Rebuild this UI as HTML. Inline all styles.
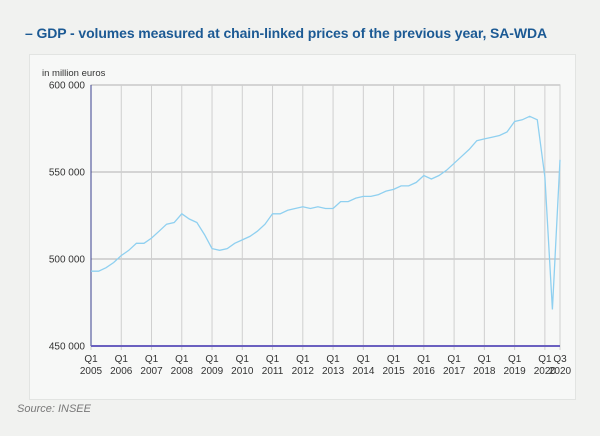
<!DOCTYPE html>
<html><head><meta charset="utf-8"><style>
body{margin:0;width:600px;height:436px;background:#f1f2f0;font-family:"Liberation Sans",sans-serif;overflow:hidden;position:relative}
#title{position:absolute;left:25px;top:25px;font-size:14px;font-weight:bold;color:#1c5a94;white-space:nowrap;letter-spacing:-0.1px}
#panel{position:absolute;left:29px;top:54px;width:545px;height:344px;background:#f7f8f7;border:1px solid #e2e4e2}
#src{position:absolute;left:17px;top:403px;font-size:11px;font-style:italic;color:#777}
svg{position:absolute;left:0;top:0}
</style></head><body>
<div id="title">– GDP - volumes measured at chain-linked prices of the previous year, SA-WDA</div>
<div id="panel"></div>
<div id="src">Source: INSEE</div>
<svg id="chart" width="600" height="436"></svg>
<script>
const gdpValues=[493,493,495,498, 502,505,509,509, 512,516,520,521, 526,523,521,514,
506,505,506,509, 511,513,516,520, 526,526,528,529, 530,529,530,529,
529,533,533,535, 536,536,537,539, 540,542,542,544, 548,546,548,551,
555,559,563,568, 569,570,571,573, 579,580,582,580, 547,471,557];
const yTicks=[450000,500000,550000,600000];
const yTickLabels=["450 000","500 000","550 000","600 000"];
const xLabelsTop=["Q1","Q1","Q1","Q1","Q1","Q1","Q1","Q1","Q1","Q1","Q1","Q1","Q1","Q1","Q1","Q1","Q3"];
const xLabelsBottom=["2005","2006","2007","2008","2009","2010","2011","2012","2013","2014","2015","2016","2017","2018","2019","2020","2020"];
const xLabelQuarters=[0,4,8,12,16,20,24,28,32,36,40,44,48,52,56,60,62];

const NS="http://www.w3.org/2000/svg",svg=document.getElementById('chart');
const X0=91,X1=560,Y0=346,Y1=85;
const x=q=>X0+(X1-X0)*q/(gdpValues.length-1);
const y=v=>Y0-(Y0-Y1)*(v-450000)/150000;
function mk(t,a){const e=document.createElementNS(NS,t);for(const k in a)e.setAttribute(k,a[k]);svg.appendChild(e);return e;}
let e=mk('rect',{x:X0,y:Y1,width:X1-X0,height:Y0-Y1,fill:'none',stroke:'#c8c8c8'});


yTicks.forEach((v,i)=>{
 const g=mk('line',{x1:X0,x2:X1,y1:y(v),y2:y(v),stroke:'#b0b0b0'});
 
 
 const t=mk('text',{x:X0-6,y:y(v)+3.5,'font-size':'10','text-anchor':'end',fill:'#333'});
 t.textContent=yTickLabels[i];
 
 
});
xLabelQuarters.forEach((q,i)=>{
 const g=mk('line',{x1:x(q),x2:x(q),y1:Y1,y2:Y0+4,stroke:'#cfcfcf'});
 
 
 const t1=mk('text',{x:x(q),y:362,'font-size':'10','text-anchor':'middle',fill:'#333'});
 t1.textContent=xLabelsTop[i];
 
 
 const t2=mk('text',{x:x(q),y:374,'font-size':'10','text-anchor':'middle',fill:'#333'});
 t2.textContent=xLabelsBottom[i];
 
 
});
e=mk('line',{x1:X0,x2:X0,y1:Y1,y2:Y0,stroke:'#3a3f8f','stroke-width':1});


e=mk('line',{x1:X0,x2:X1,y1:Y0,y2:Y0,stroke:'#6a60c0','stroke-width':2});


e=mk('text',{x:42,y:76,'font-size':'9.5',fill:'#333'});
e.textContent='in million euros';


const pts=gdpValues.map((v,i)=>x(i).toFixed(1)+','+y(v*1000).toFixed(1)).join(' ');
e=mk('polyline',{points:pts,fill:'none',stroke:'#8fd0f0','stroke-width':1.3});


</script>
</body></html>
